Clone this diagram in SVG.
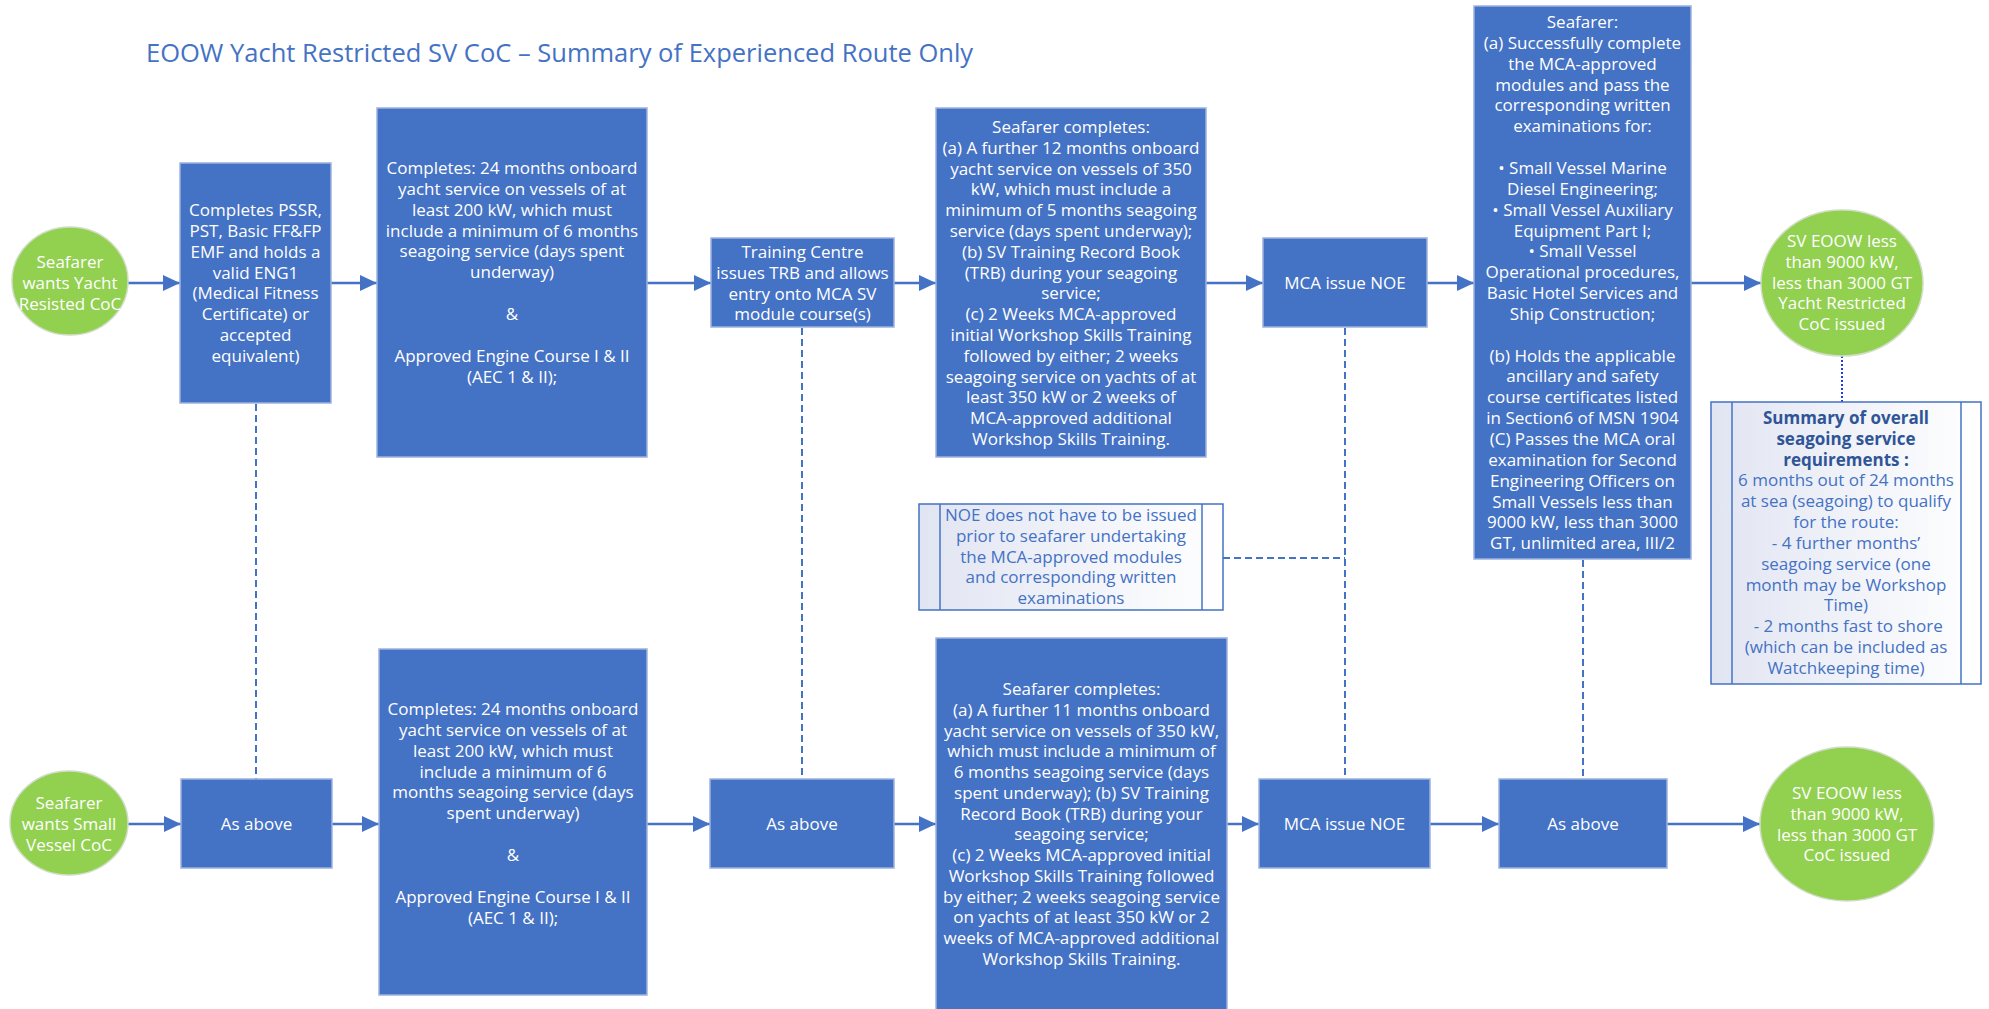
<svg xmlns="http://www.w3.org/2000/svg" width="1989" height="1009" viewBox="0 0 1989 1009">
<style>
.box{fill:#4472C4;stroke:#9DB3E0;stroke-width:1.5}
.oval{fill:#92D050;stroke:#D0DCC4;stroke-width:1.5}
.note{fill:url(#ng);stroke:#4472C4;stroke-width:1.5}
.inner{stroke:#4472C4;stroke-width:1.5;fill:none}
.t{font-family:"Open Sans","Noto Sans","DejaVu Sans",sans-serif;font-size:17px;fill:#FFFFFF;text-anchor:middle}
.nt{font-family:"Open Sans","Noto Sans","DejaVu Sans",sans-serif;font-size:17px;fill:#4472C4;text-anchor:middle}
.b{font-weight:bold;fill:#2F5597}
.title{font-family:"Open Sans","Noto Sans","DejaVu Sans",sans-serif;font-size:25.5px;fill:#4472C4}
.arr{stroke:#4472C4;stroke-width:2.5;fill:none;marker-end:url(#ah)}
.dash{stroke:#4472C4;stroke-width:2;fill:none;stroke-dasharray:7 4}
.dot{stroke:#1F3FE0;stroke-width:2;fill:none;stroke-dasharray:2 2}
</style>
<defs>
<marker id="ah" markerUnits="userSpaceOnUse" markerWidth="18" markerHeight="16" refX="17" refY="8" orient="auto">
<path d="M0,0 L17,8 L0,16 Z" fill="#4472C4"/>
</marker>
<linearGradient id="ng" x1="0" y1="0" x2="1" y2="0">
<stop offset="0" stop-color="#E1E5F2"/>
<stop offset="1" stop-color="#FFFFFF"/>
</linearGradient>
</defs>
<rect width="1989" height="1009" fill="#FFFFFF"/>
<text class="title" x="146" y="62">EOOW Yacht Restricted SV CoC – Summary of Experienced Route Only</text>

<g id="connectors">
<line class="arr" x1="128" y1="283" x2="180" y2="283"/>
<line class="arr" x1="331" y1="283" x2="377" y2="283"/>
<line class="arr" x1="647" y1="283" x2="711" y2="283"/>
<line class="arr" x1="894" y1="283" x2="936" y2="283"/>
<line class="arr" x1="1206" y1="283" x2="1263" y2="283"/>
<line class="arr" x1="1427" y1="283" x2="1474" y2="283"/>
<line class="arr" x1="1690" y1="283" x2="1761" y2="283"/>
<line class="arr" x1="128" y1="824" x2="181" y2="824"/>
<line class="arr" x1="332" y1="824" x2="379" y2="824"/>
<line class="arr" x1="647" y1="824" x2="710" y2="824"/>
<line class="arr" x1="894" y1="824" x2="936" y2="824"/>
<line class="arr" x1="1227" y1="824" x2="1259" y2="824"/>
<line class="arr" x1="1430" y1="824" x2="1499" y2="824"/>
<line class="arr" x1="1667" y1="824" x2="1760" y2="824"/>
<line class="dash" x1="256" y1="404" x2="256" y2="779"/>
<line class="dash" x1="802" y1="328" x2="802" y2="779"/>
<line class="dash" x1="1345" y1="328" x2="1345" y2="779"/>
<line class="dash" x1="1223" y1="558" x2="1345" y2="558"/>
<line class="dash" x1="1583" y1="560" x2="1583" y2="779"/>
<line class="dot" x1="1842" y1="356" x2="1842" y2="402"/>
</g>

<g id="start-yacht">
<ellipse class="oval" cx="70" cy="281" rx="58" ry="54"/>
<text class="t" y="268"><tspan x="70">Seafarer</tspan><tspan x="70" dy="21">wants Yacht</tspan><tspan x="70" dy="21">Resisted CoC</tspan></text>
</g>

<g id="prereq">
<rect class="box" x="180" y="163" width="151" height="240"/>
<text class="t" y="216"><tspan x="255.5">Completes PSSR,</tspan><tspan x="255.5" dy="20.85">PST, Basic FF&amp;FP</tspan><tspan x="255.5" dy="20.85">EMF and holds  a</tspan><tspan x="255.5" dy="20.85">valid ENG1</tspan><tspan x="255.5" dy="20.85">(Medical Fitness</tspan><tspan x="255.5" dy="20.85">Certificate) or</tspan><tspan x="255.5" dy="20.85">accepted</tspan><tspan x="255.5" dy="20.85">equivalent)</tspan></text>
</g>

<g id="service-top">
<rect class="box" x="377" y="108" width="270" height="349"/>
<text class="t" y="174"><tspan x="512">Completes: 24 months onboard</tspan><tspan x="512" dy="20.85">yacht service on vessels of at</tspan><tspan x="512" dy="20.85">least 200 kW, which must</tspan><tspan x="512" dy="20.85">include a minimum of 6 months</tspan><tspan x="512" dy="20.85">seagoing service (days spent</tspan><tspan x="512" dy="20.85">underway)</tspan><tspan x="512" dy="41.7">&amp;</tspan><tspan x="512" dy="41.7">Approved Engine Course I &amp; II</tspan><tspan x="512" dy="20.85">(AEC 1 &amp; II);</tspan></text>
</g>

<g id="training-centre">
<rect class="box" x="711" y="238" width="183" height="89"/>
<text class="t" y="258"><tspan x="802.5">Training Centre</tspan><tspan x="802.5" dy="20.8">issues TRB and allows</tspan><tspan x="802.5" dy="20.8">entry onto MCA SV</tspan><tspan x="802.5" dy="20.8">module course(s)</tspan></text>
</g>

<g id="further-top">
<rect class="box" x="936" y="108" width="270" height="349"/>
<text class="t" y="133"><tspan x="1071">Seafarer completes:</tspan><tspan x="1071" dy="20.8">(a) A further 12 months onboard</tspan><tspan x="1071" dy="20.8">yacht service on vessels of 350</tspan><tspan x="1071" dy="20.8">kW, which must include a</tspan><tspan x="1071" dy="20.8">minimum of 5 months seagoing</tspan><tspan x="1071" dy="20.8">service (days spent underway);</tspan><tspan x="1071" dy="20.8">(b) SV Training Record Book</tspan><tspan x="1071" dy="20.8">(TRB) during your seagoing</tspan><tspan x="1071" dy="20.8">service;</tspan><tspan x="1071" dy="20.8">(c) 2 Weeks MCA-approved</tspan><tspan x="1071" dy="20.8">initial Workshop Skills Training</tspan><tspan x="1071" dy="20.8">followed by  either; 2 weeks</tspan><tspan x="1071" dy="20.8">seagoing service on yachts of at</tspan><tspan x="1071" dy="20.8">least 350 kW or 2 weeks of</tspan><tspan x="1071" dy="20.8">MCA-approved additional</tspan><tspan x="1071" dy="20.8">Workshop Skills Training.</tspan></text>
</g>

<g id="noe-top">
<rect class="box" x="1263" y="238" width="164" height="89"/>
<text class="t" x="1345" y="289">MCA issue NOE</text>
</g>

<g id="exams">
<rect class="box" x="1474" y="6" width="217" height="553"/>
<text class="t" y="28"><tspan x="1582.5">Seafarer:</tspan><tspan x="1582.5" dy="20.85">(a) Successfully complete</tspan><tspan x="1582.5" dy="20.85">the MCA-approved</tspan><tspan x="1582.5" dy="20.85">modules and pass the</tspan><tspan x="1582.5" dy="20.85">corresponding written</tspan><tspan x="1582.5" dy="20.85">examinations for:</tspan><tspan x="1582.5" dy="41.7">• Small Vessel Marine</tspan><tspan x="1582.5" dy="20.85">Diesel Engineering;</tspan><tspan x="1582.5" dy="20.85">• Small Vessel Auxiliary</tspan><tspan x="1582.5" dy="20.85">Equipment Part I;</tspan><tspan x="1582.5" dy="20.85">• Small Vessel</tspan><tspan x="1582.5" dy="20.85">Operational procedures,</tspan><tspan x="1582.5" dy="20.85">Basic Hotel Services and</tspan><tspan x="1582.5" dy="20.85">Ship Construction;</tspan><tspan x="1582.5" dy="41.7">(b) Holds the applicable</tspan><tspan x="1582.5" dy="20.85">ancillary and safety</tspan><tspan x="1582.5" dy="20.85">course certificates listed</tspan><tspan x="1582.5" dy="20.85">in Section6 of MSN 1904</tspan><tspan x="1582.5" dy="20.85">(C) Passes the MCA oral</tspan><tspan x="1582.5" dy="20.85">examination for Second</tspan><tspan x="1582.5" dy="20.85">Engineering Officers on</tspan><tspan x="1582.5" dy="20.85">Small Vessels less than</tspan><tspan x="1582.5" dy="20.85">9000 kW, less than 3000</tspan><tspan x="1582.5" dy="20.85">GT, unlimited area, III/2</tspan></text>
</g>

<g id="end-yacht">
<ellipse class="oval" cx="1842" cy="283" rx="81" ry="73"/>
<text class="t" y="247"><tspan x="1842">SV EOOW less</tspan><tspan x="1842" dy="20.8">than 9000 kW,</tspan><tspan x="1842" dy="20.8">less than 3000 GT</tspan><tspan x="1842" dy="20.8">Yacht Restricted</tspan><tspan x="1842" dy="20.8">CoC issued</tspan></text>
</g>

<g id="summary">
<rect class="note" x="1711" y="402" width="270" height="282"/>
<line class="inner" x1="1732" y1="402" x2="1732" y2="684"/>
<line class="inner" x1="1961" y1="402" x2="1961" y2="684"/>
<text class="nt" y="424"><tspan class="b" x="1846">Summary of overall</tspan><tspan class="b" x="1846" dy="20.83">seagoing service</tspan><tspan class="b" x="1846" dy="20.83">requirements :</tspan><tspan x="1846" dy="20.83">6 months out of 24 months</tspan><tspan x="1846" dy="20.83">at sea (seagoing) to qualify</tspan><tspan x="1846" dy="20.83">for the route:</tspan><tspan x="1846" dy="20.83">- 4 further months’</tspan><tspan x="1846" dy="20.83">seagoing service (one</tspan><tspan x="1846" dy="20.83">month may be Workshop</tspan><tspan x="1846" dy="20.83">Time)</tspan><tspan x="1846" dy="20.83"> - 2 months fast to shore</tspan><tspan x="1846" dy="20.83">(which can be included as</tspan><tspan x="1846" dy="20.83">Watchkeeping time)</tspan></text>
</g>

<g id="noe-note">
<rect class="note" x="919" y="504" width="304" height="106"/>
<line class="inner" x1="940" y1="504" x2="940" y2="610"/>
<line class="inner" x1="1202" y1="504" x2="1202" y2="610"/>
<text class="nt" y="521"><tspan x="1071">NOE does not have to be issued</tspan><tspan x="1071" dy="20.75">prior to seafarer undertaking</tspan><tspan x="1071" dy="20.75">the MCA-approved modules</tspan><tspan x="1071" dy="20.75">and corresponding written</tspan><tspan x="1071" dy="20.75">examinations</tspan></text>
</g>

<g id="start-sv">
<ellipse class="oval" cx="69" cy="823" rx="59" ry="52"/>
<text class="t" y="809"><tspan x="69">Seafarer</tspan><tspan x="69" dy="20.8">wants Small</tspan><tspan x="69" dy="20.8">Vessel CoC</tspan></text>
</g>

<g id="as-above-1">
<rect class="box" x="181" y="779" width="151" height="89"/>
<text class="t" x="256.5" y="830">As above</text>
</g>

<g id="service-bottom">
<rect class="box" x="379" y="649" width="268" height="346"/>
<text class="t" y="715"><tspan x="513">Completes: 24 months onboard</tspan><tspan x="513" dy="20.85">yacht service on vessels of at</tspan><tspan x="513" dy="20.85">least 200 kW, which must</tspan><tspan x="513" dy="20.85">include a minimum of 6</tspan><tspan x="513" dy="20.85">months seagoing service (days</tspan><tspan x="513" dy="20.85">spent underway)</tspan><tspan x="513" dy="41.7">&amp;</tspan><tspan x="513" dy="41.7">Approved Engine Course I &amp; II</tspan><tspan x="513" dy="20.85">(AEC 1 &amp; II);</tspan></text>
</g>

<g id="as-above-2">
<rect class="box" x="710" y="779" width="184" height="89"/>
<text class="t" x="802" y="830">As above</text>
</g>

<g id="further-bottom">
<rect class="box" x="936" y="638" width="291" height="380"/>
<text class="t" y="695"><tspan x="1081.5">Seafarer completes:</tspan><tspan x="1081.5" dy="20.75">(a) A further 11 months onboard</tspan><tspan x="1081.5" dy="20.75">yacht service on vessels of 350 kW,</tspan><tspan x="1081.5" dy="20.75">which must include a minimum of</tspan><tspan x="1081.5" dy="20.75">6 months seagoing service (days</tspan><tspan x="1081.5" dy="20.75">spent underway); (b) SV Training</tspan><tspan x="1081.5" dy="20.75">Record Book (TRB) during your</tspan><tspan x="1081.5" dy="20.75">seagoing service;</tspan><tspan x="1081.5" dy="20.75">(c) 2 Weeks MCA-approved initial</tspan><tspan x="1081.5" dy="20.75">Workshop Skills Training followed</tspan><tspan x="1081.5" dy="20.75">by either; 2 weeks seagoing service</tspan><tspan x="1081.5" dy="20.75">on yachts of at least 350 kW or 2</tspan><tspan x="1081.5" dy="20.75">weeks of MCA-approved additional</tspan><tspan x="1081.5" dy="20.75">Workshop Skills Training.</tspan></text>
</g>

<g id="noe-bottom">
<rect class="box" x="1259" y="779" width="171" height="89"/>
<text class="t" x="1344.5" y="830">MCA issue NOE</text>
</g>

<g id="as-above-3">
<rect class="box" x="1499" y="779" width="168" height="89"/>
<text class="t" x="1583" y="830">As above</text>
</g>

<g id="end-sv">
<ellipse class="oval" cx="1847" cy="824" rx="87" ry="77"/>
<text class="t" y="799"><tspan x="1847">SV EOOW less</tspan><tspan x="1847" dy="20.8">than 9000 kW,</tspan><tspan x="1847" dy="20.8">less than 3000 GT</tspan><tspan x="1847" dy="20.8">CoC issued</tspan></text>
</g>
</svg>
